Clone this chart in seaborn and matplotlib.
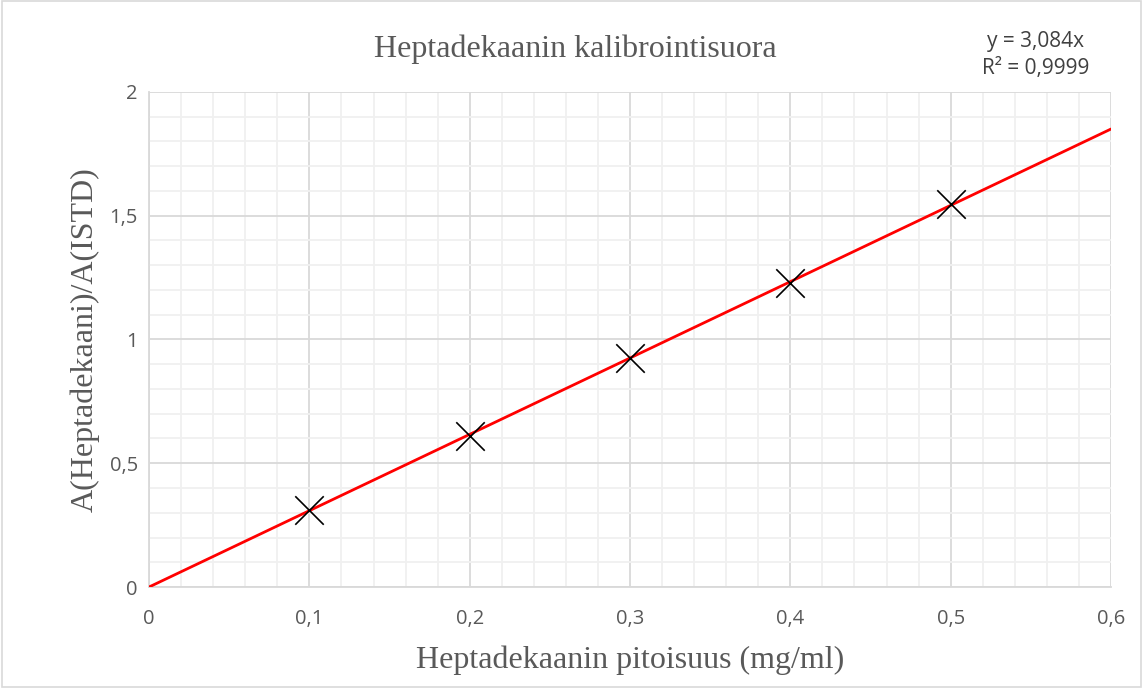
import numpy as np
import pandas as pd
import seaborn as sns
import matplotlib.pyplot as plt
from matplotlib.ticker import MultipleLocator, FuncFormatter
from matplotlib.patches import Rectangle

# data
conc = [0.1, 0.2, 0.3, 0.4, 0.5]
ratio = [0.311, 0.612, 0.925, 1.228, 1.547]
slope = 3.084
trend_x = [0.0, 0.6]

sns.set_style("white")

fig = plt.figure(figsize=(11.43, 6.88), dpi=100)
ax = fig.add_axes([0.1304, 0.1468, 0.8416, 0.7195])

points = pd.DataFrame({"x": conc, "y": ratio})
trend = pd.DataFrame({"x": trend_x, "y": [slope * v for v in trend_x]})

sns.lineplot(x="x", y="y", data=trend, color="#ff0000", linewidth=2, ax=ax, zorder=3)
sns.scatterplot(x="x", y="y", data=points, marker="x", s=420, color="black",
                linewidth=1.2, ax=ax, zorder=4)

ax.set_xlim(0, 0.6)
ax.set_ylim(0, 2)
ax.xaxis.set_major_locator(MultipleLocator(0.1))
ax.xaxis.set_minor_locator(MultipleLocator(0.02))
ax.yaxis.set_major_locator(MultipleLocator(0.5))
ax.yaxis.set_minor_locator(MultipleLocator(0.1))

fmt = FuncFormatter(lambda v, p: ("%g" % round(v, 2)).replace(".", ","))
ax.xaxis.set_major_formatter(fmt)
ax.yaxis.set_major_formatter(fmt)

ax.grid(which="major", color="#d9d9d9", linewidth=1.3)
ax.grid(which="minor", color="#f0f0f0", linewidth=1.3)
ax.set_axisbelow(True)
for side in ["top", "right"]:
    ax.spines[side].set_visible(False)
ax.spines["left"].set_color("#d9d9d9")
ax.spines["bottom"].set_color("#d9d9d9")
ax.spines["left"].set_linewidth(1.3)
ax.spines["bottom"].set_linewidth(1.3)
ax.tick_params(which="both", length=0, labelsize=14.5, colors="#595959")
ax.tick_params(axis="x", pad=16)
ax.tick_params(axis="y", pad=8)
for lab in ax.get_xticklabels() + ax.get_yticklabels():
    lab.set_family("Open Sans")

serif = ["Liberation Serif", "DejaVu Serif"]
ax.set_xlabel("Heptadekaanin pitoisuus (mg/ml)", fontsize=23, family=serif,
              color="#595959", labelpad=12)
ax.set_ylabel("A(Heptadekaani)/A(ISTD)", fontsize=23, family=serif,
              color="#595959", labelpad=7)
fig.text(0.503, 0.928, "Heptadekaanin kalibrointisuora", ha="center", va="center",
         fontsize=23, family=serif, color="#595959")

fig.text(0.906, 0.940, "y = 3,084x", ha="center", va="center", fontsize=15,
         family="Open Sans", color="#404040")
fig.text(0.906, 0.900, "R² = 0,9999", ha="center", va="center", fontsize=15,
         family="Open Sans", color="#404040")

fig.patches.append(Rectangle((0.002, 0.002), 0.996, 0.996, transform=fig.transFigure,
                             fill=False, edgecolor="#d9d9d9", linewidth=1.2))

fig.savefig("out.png", dpi=100)
